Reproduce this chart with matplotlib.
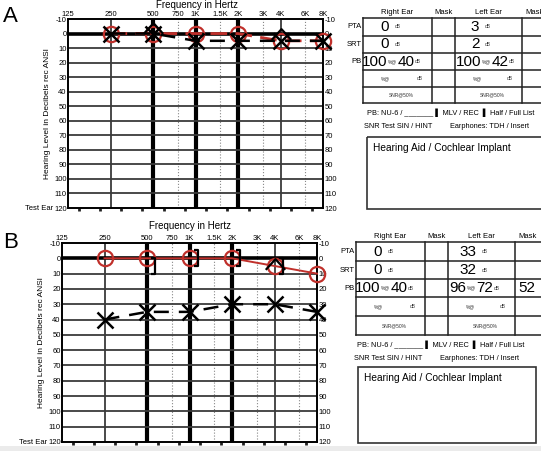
import numpy as np
import matplotlib
matplotlib.use('Agg')
import matplotlib.pyplot as plt
from matplotlib.path import Path
from matplotlib.patches import Rectangle
from matplotlib.ticker import NullFormatter

plt.rcParams['font.family'] = ['Liberation Sans', 'DejaVu Sans']

W, H = 541, 451

freq_ticks = [125, 250, 500, 750, 1000, 1500, 2000, 3000, 4000, 6000, 8000]
freq_labels = ['125', '250', '500', '750', '1K', '1.5K', '2K', '3K', '4K', '6K', '8K']
db_ticks = list(range(-10, 121, 10))
test_freqs = [250, 500, 1000, 2000, 4000, 8000]

# panel A thresholds (dB HL)
a_right = [0, 0, 0, 0, 5, 5]
a_left = [0, 0, 5, 5, 5, 5]
a_bone_freqs = [500, 4000]
a_bone = [-4, 0]

# panel B thresholds (dB HL)
b_right = [0, 0, 0, 0, 5, 10]
b_left = [40, 35, 35, 30, 30, 35]
b_bone_freqs = [4000]
b_bone = [4]
b_mbone_freqs = [500, 1000, 2000, 4000]
b_mbone = [5, 0, 0, 5]

# speech results
a_pta = ['0', '3']
a_srt = ['0', '2']
a_pb = [('100', '40'), ('100', '42')]
a_pb_mask = ''
b_pta = ['0', '33']
b_srt = ['0', '32']
b_pb = [('100', '40'), ('96', '72')]
b_pb_mask = '52'

RED = '#c0302b'
chevron = Path([(-1, -0.55), (0, 0.55), (1, -0.55)],
               [Path.MOVETO, Path.LINETO, Path.LINETO])
bracket = Path([(0.55, 1), (1, 1), (1, -1), (0.55, -1)],
               [Path.MOVETO, Path.LINETO, Path.LINETO, Path.LINETO])


def px_rect(l, t, r, b):
    return [l / W, 1 - b / H, (r - l) / W, (b - t) / H]


fig = plt.figure(figsize=(W / 100, H / 100), dpi=100)
ov = fig.add_axes([0, 0, 1, 1])
ov.set_xlim(0, W)
ov.set_ylim(H, 0)
ov.axis('off')
rend = fig.canvas.get_renderer()


def audiogram(rect, right, left, bone_f, bone, mbone_f, mbone, red_ls, red_lw):
    ax = fig.add_axes(px_rect(*rect))
    ax.set_xscale('log', base=2)
    ax.set_xlim(125, 8000)
    ax.set_ylim(120, -10)
    ax.set_xticks(freq_ticks, freq_labels)
    octs = [125 * 2 ** (k + d) for k in range(6) for d in (0.25, 0.75)]
    ax.set_xticks(octs, minor=True)
    ax.xaxis.set_minor_formatter(NullFormatter())
    ax.set_yticks(db_ticks, [str(v) for v in db_ticks])
    ax.xaxis.tick_top()
    ax.tick_params(axis='x', which='major', length=0, pad=1, labelsize=5.5)
    ax.tick_params(axis='x', which='minor', top=False, bottom=True,
                   direction='out', length=2.5, width=2, color='#222')
    ax.tick_params(axis='y', length=0, pad=1, labelsize=5.5,
                   left=True, right=True, labelleft=True, labelright=True)
    for f in freq_ticks[1:-1]:
        if f in (500, 1000, 2000):
            ax.axvline(f, color='black', lw=3)
        elif f in (250, 4000):
            ax.axvline(f, color='#3a3a3a', lw=1.3)
        else:
            ax.axvline(f, color='#888888', lw=0.8, ls=':')
    for v in db_ticks[1:-1]:
        if v == 0:
            ax.axhline(v, color='black', lw=2.6)
        else:
            ax.axhline(v, color='#3a3a3a', lw=1.3)
    for s in ax.spines.values():
        s.set_linewidth(1.4)

    ax.plot(test_freqs, right, color=RED, ls=red_ls, lw=red_lw, marker='o',
            ms=11, mfc='none', mec=RED, mew=1.6, zorder=5, clip_on=False)
    ax.plot(test_freqs, left, color='black', ls=(0, (6, 4)), lw=1.8,
            marker='x', ms=11, mew=1.8, zorder=6, clip_on=False)
    ax.plot(bone_f, bone, ls='none', marker=chevron, ms=14, mfc='none',
            mec='black', mew=1.6, zorder=6, clip_on=False)
    if mbone_f:
        ax.plot(mbone_f, mbone, ls='none', marker=bracket, ms=11, mfc='none',
                mec='black', mew=1.6, zorder=6, clip_on=False)
    ax.set_ylabel('Hearing Level in Decibels rec ANSI', fontsize=6)
    ax.yaxis.set_label_coords(-0.068, 0.5)
    return ax


def run_text(x, y, parts):
    # parts: (string, kwargs, gap after) laid out left to right
    for s, kw, gap in parts:
        t = ov.text(x, y, s, ha='left', va='center', **kw)
        x += t.get_window_extent(rend).width + gap
    return x


def speech_table(x0, cols, rows, pta, srt, pb, pb_mask, hdr_y):
    c1, c2, c3 = cols
    for y in rows:
        ov.plot([x0, W + 5], [y, y], color='#222', lw=1.1)
    for x in (x0, c1, c2, c3):
        ov.plot([x, x], [rows[0], rows[-1]], color='#222', lw=1.1)
    hk = dict(fontsize=5.5, ha='center', va='center')
    ov.text((x0 + c1) / 2, hdr_y, 'Right Ear', **hk)
    ov.text((c1 + c2) / 2, hdr_y, 'Mask', **hk)
    ov.text((c2 + c3) / 2, hdr_y, 'Left Ear', **hk)
    ov.text(c3 + 3, hdr_y, 'Mask', fontsize=5.5, ha='left', va='center')
    yc = [(rows[i] + rows[i + 1]) / 2 for i in range(len(rows) - 1)]
    for lab, y in zip(['PTA', 'SRT', 'PB'], yc[:3]):
        ov.text(x0 - 1, y, lab, fontsize=5.5, ha='right', va='center')
    big = dict(fontsize=11)
    tiny = dict(fontsize=3.5, color='#333')
    for i, vals in enumerate([pta, srt]):
        run_text(x0 + 22 - 4.2 * len(vals[0]), yc[i],
                 [(vals[0], big, 5), ('dB', tiny, 0)])
        run_text(c2 + 20 - 4.2 * len(vals[1]), yc[i],
                 [(vals[1], big, 5), ('dB', tiny, 0)])
    for start, (pct, lvl) in zip([x0 - 1, c2 + 1], pb):
        run_text(start, yc[2], [(pct, big, 0.5), ('%@', tiny, 0.5),
                                (lvl, big, 0.5), ('dB', tiny, 0)])
    if pb_mask:
        ov.text(c3 + 3, yc[2], pb_mask, ha='left', va='center', **big)
    for start, end in [(x0, c1), (c2, c3)]:
        ov.text(start + 22, yc[3], '%@', ha='center', va='center', **tiny)
        ov.text(end - 12, yc[3], 'dB', ha='center', va='center', **tiny)
        ov.text((start + end) / 2 + 4, yc[4], 'SNR@50%', ha='center',
                va='center', **tiny)


def notes(x, y1, y2, ear_x, box):
    ov.text(x, y1, 'PB: NU-6 / _______ \u258c MLV / REC  \u258c Half / Full List',
            fontsize=5.3, ha='left', va='center')
    ov.text(x - 3, y2, 'SNR Test SIN / HINT', fontsize=5.3, ha='left', va='center')
    ov.text(ear_x, y2, 'Earphones: TDH / Insert', fontsize=5.3, ha='left', va='center')
    l, t, r, b = box
    ov.add_patch(Rectangle((l, t), r - l, b - t, fill=False, lw=1.2, ec='#333'))
    ov.text(l + 6, t + 11, 'Hearing Aid / Cochlear Implant', fontsize=7.3,
            ha='left', va='center')


# panel A
audiogram((68, 19, 323, 208), a_right, a_left, a_bone_freqs, a_bone, [], [],
          (0, (6, 3)), 2.0)
ov.text(3, 17, 'A', fontsize=16, va='center', ha='left')
ov.text(197, 5, 'Frequency in Hertz', fontsize=7, ha='center', va='center')
ov.text(53, 208, 'Test Ear', fontsize=5.5, ha='right', va='center')
speech_table(363, (432, 455, 522), [18, 35.5, 53, 70, 87, 103], a_pta, a_srt,
             a_pb, a_pb_mask, 12)
notes(367, 113, 126, 450, (367, 137, 548, 209))

# panel B
audiogram((62, 243, 317, 442), b_right, b_left, b_bone_freqs, b_bone,
          b_mbone_freqs, b_mbone, '-', 1.4)
ov.text(3, 243, 'B', fontsize=16, va='center', ha='left')
ov.text(190, 226, 'Frequency in Hertz', fontsize=7, ha='center', va='center')
ov.text(47, 442, 'Test Ear', fontsize=5.5, ha='right', va='center')
speech_table(356, (425, 448, 515), [242, 261, 279, 297, 316, 335], b_pta, b_srt,
             b_pb, b_pb_mask, 236)
notes(357, 345, 358, 440, (358, 367, 536, 443))

ov.add_patch(Rectangle((0, 446), W, 6, color='#ebebeb', lw=0, zorder=0))

fig.savefig('out.png', dpi=100)
